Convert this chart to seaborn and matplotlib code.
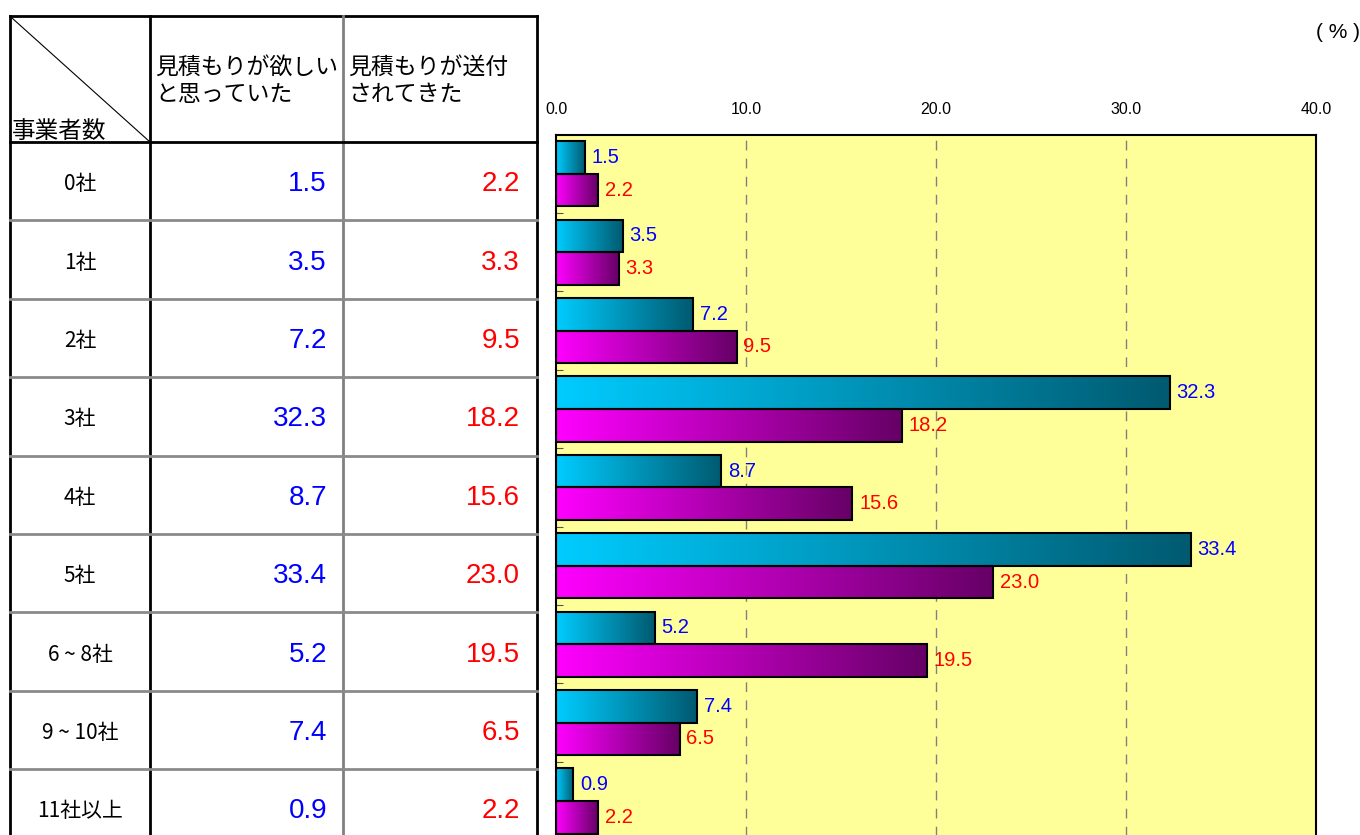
import numpy as np
import pandas as pd
import matplotlib
matplotlib.use("Agg")
import matplotlib.pyplot as plt
from matplotlib.colors import LinearSegmentedColormap
import seaborn as sns

# data
categories = ["0社", "1社", "2社", "3社", "4社", "5社", "6 ~ 8社", "9 ~ 10社", "11社以上"]
series_names = ["見積もりが欲しい\nと思っていた", "見積もりが送付\nされてきた"]
wanted = [1.5, 3.5, 7.2, 32.3, 8.7, 33.4, 5.2, 7.4, 0.9]
sent = [2.2, 3.3, 9.5, 18.2, 15.6, 23.0, 19.5, 6.5, 2.2]
x_ticks = [0, 10, 20, 30, 40]

plt.rcParams['font.family'] = ['Liberation Sans', 'Noto Sans CJK JP', 'DejaVu Sans']

df = pd.DataFrame({
    'cat': categories * 2,
    'series': [series_names[0]] * len(categories) + [series_names[1]] * len(categories),
    'value': wanted + sent,
})

fig = plt.figure(figsize=(13.6, 8.35), dpi=100)
W, H = 1360, 835

# ---------- table on the left (pixel coordinates) ----------
tab = fig.add_axes([0, 0, 540 / W, 1])
tab.set_xlim(0, 540)
tab.set_ylim(H, 0)
tab.axis('off')

row_lines = [142 + 78.4 * i for i in range(10)]
cjk = ['Noto Sans CJK JP', 'DejaVu Sans']

# outer/vertical lines
tab.plot([10, 537], [16, 16], color='black', lw=2)
tab.plot([10, 10], [16, 840], color='black', lw=2)
tab.plot([150, 150], [16, 840], color='black', lw=2)
tab.plot([343, 343], [16, 840], color='#808080', lw=2)
tab.plot([537, 537], [16, 840], color='black', lw=2)
tab.plot([10, 537], [142, 142], color='black', lw=2)
for y in row_lines[1:]:
    tab.plot([10, 537], [y, y], color='#8a8a8a', lw=2)
tab.plot([12, 150], [18, 142], color='black', lw=0.8)

tab.text(155, 56, series_names[0], ha='left', va='top', fontsize=16.5,
         family=cjk, linespacing=1.2)
tab.text(348, 56, series_names[1], ha='left', va='top', fontsize=16.5,
         family=cjk, linespacing=1.2)
tab.text(12, 131, "事業者数", ha='left', va='center', fontsize=17, family=cjk)

for i, cat in enumerate(categories):
    yc = (row_lines[i] + row_lines[i + 1]) / 2 + 3
    tab.text(80, yc, cat, ha='center', va='center', fontsize=15, family=cjk)
    tab.text(327, yc, f"{wanted[i]:.1f}", ha='right', va='center',
             fontsize=20, color='#0000FF')
    tab.text(520, yc, f"{sent[i]:.1f}", ha='right', va='center',
             fontsize=20, color='#FF0000')

# ---------- bar chart on the right ----------
ax_top = 134.6
ax_h = 78.4 * len(categories)
ax = fig.add_axes([556 / W, (H - ax_top - ax_h) / H, 760 / W, ax_h / H])

sns.barplot(data=df, y='cat', x='value', hue='series', orient='h', ax=ax,
            palette=['#00CCFF', '#FF00FF'], width=0.83, legend=False,
            edgecolor='black', linewidth=1.5, saturation=1)

ax.set_facecolor('#FFFF99')

grads = [('#00CCFF', '#005A70'), ('#FF00FF', '#660066')]
label_colors = ['#0000FF', '#FF0000']
g = np.linspace(0, 1, 256).reshape(1, -1)
for cont, (c0, c1), lc in zip(ax.containers, grads, label_colors):
    cmap = LinearSegmentedColormap.from_list('grad', [c0, c1])
    for p in cont.patches:
        x0, y0, w, h = p.get_x(), p.get_y(), p.get_width(), p.get_height()
        ax.imshow(g, cmap=cmap, extent=(x0, x0 + w, y0 + h, y0),
                  aspect='auto', zorder=2, interpolation='bilinear')
        p.set_facecolor('none')
        p.set_zorder(3)
    ax.bar_label(cont, fmt='%.1f', padding=5, color=lc, fontsize=14.5)

ax.set_xlim(0, 40)
ax.set_ylim(len(categories) - 0.5, -0.5)

for xv in x_ticks[1:-1]:
    ax.axvline(xv, color='#808080', lw=1, ls=(0, (7, 6)), zorder=1)

ax.xaxis.tick_top()
ax.set_xticks(x_ticks)
ax.set_xticklabels([f"{v:.1f}" for v in x_ticks], fontsize=11.5)
ax.tick_params(axis='x', length=0, pad=13)
ax.set_yticks(np.arange(len(categories)) + 0.5, minor=False)
ax.set_yticklabels([])
ax.tick_params(axis='y', direction='in', length=5, color='#555555')
ax.set_xlabel('')
ax.set_ylabel('')
for s in ax.spines.values():
    s.set_color('black')
    s.set_linewidth(1.5)

fig.text(1338 / W, 1 - 33 / H, "( % )", ha='center', va='center', fontsize=15)

fig.savefig('out.png', dpi=100)
